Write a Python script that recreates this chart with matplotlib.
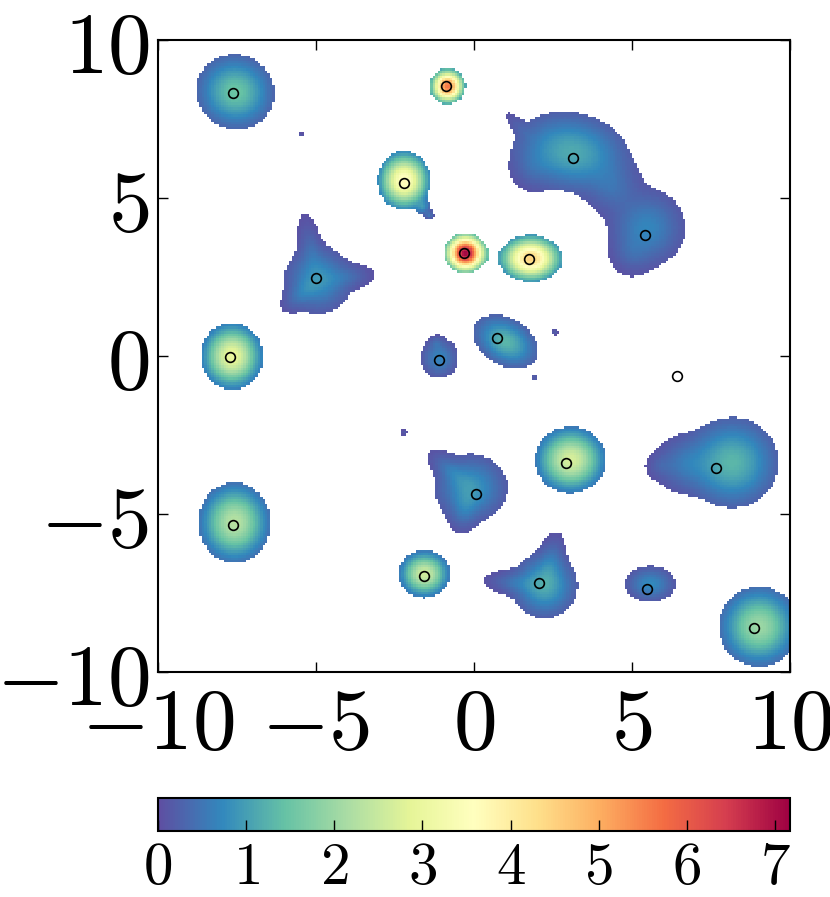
import numpy as np
import matplotlib
matplotlib.use("Agg")
import matplotlib.pyplot as plt
from matplotlib.ticker import FuncFormatter

plt.rcParams['mathtext.fontset'] = 'cm'

# sample points (markers)
pts_x = [-7.63, -0.89, -2.22, -0.32, 1.74, 3.13, 5.41, -5.00, -7.72, -1.11,
         0.73, 6.42, 2.91, 7.66, 0.06, -7.63, -1.58, 2.06, 5.47, 8.86]
pts_y = [8.32, 8.54, 5.47, 3.26, 3.07, 6.27, 3.83, 2.47, -0.03, -0.13,
         0.57, -0.63, -3.39, -3.54, -4.37, -5.35, -6.96, -7.18, -7.37, -8.61]

# bumps that make up the field
comp_x = [-7.58, -0.84, -2.22, -1.62, -1.42, -0.27, 1.80,
          3.10, 5.50, 4.40, 5.00, 1.45, 1.85,
          -4.95, -5.20, -3.95, -5.50,
          -7.69, -1.10, -1.20, 1.01, 3.07,
          8.20, 6.60, 5.90,
          -0.10, -0.80, -0.30, -7.61, -1.58,
          2.25, 2.45, 1.20, 5.60, 9.05,
          -5.50, 2.56, 1.93, -2.22]
comp_y = [8.36, 8.54, 5.55, 4.70, 4.45, 3.25, 3.08,
          6.45, 4.05, 5.30, 3.20, 7.25, 5.90,
          2.40, 3.50, 2.50, 1.95,
          -0.02, -0.08, 0.40, 0.44, -3.31,
          -3.40, -3.45, -3.50,
          -4.20, -3.60, -4.90, -5.30, -6.93,
          -7.30, -6.50, -7.20, -7.25, -8.60,
          7.00, 0.76, -0.70, -2.44]
comp_sx = [0.70, 0.32, 0.47, 0.12, 0.08, 0.38, 0.56,
           1.02, 0.68, 0.45, 0.35, 0.30, 0.35,
           0.60, 0.55, 0.45, 0.40,
           0.55, 0.33, 0.12, 0.62, 0.63,
           0.82, 0.52, 0.22,
           0.65, 0.45, 0.40, 0.64, 0.46,
           0.58, 0.50, 0.50, 0.45, 0.71,
           0.05, 0.06, 0.06, 0.06]
comp_sy = [0.66, 0.32, 0.52, 0.12, 0.08, 0.36, 0.42,
           0.70, 0.68, 0.45, 0.35, 0.10, 0.35,
           0.60, 0.20, 0.20, 0.20,
           0.59, 0.36, 0.12, 0.42, 0.59,
           0.80, 0.47, 0.20,
           0.60, 0.20, 0.25, 0.71, 0.42,
           0.58, 0.22, 0.20, 0.32, 0.71,
           0.05, 0.06, 0.06, 0.06]
comp_ang = [-20, 0, 0, 0, 0, 0, 0,
            -10, 0, 0, 0, 135, 0,
            0, 101, 5, 220,
            0, 0, 0, -30, 0,
            0, 0, 0,
            0, 139, 256, 0, 0,
            0, 79, 176, 0, 0,
            0, 0, 0, 0]
comp_amp = [1.5, 5.6, 3.7, 0.5, 0.4, 7.1, 4.5,
            1.15, 0.7, 0.3, 0.2, 0.1, 0.15,
            0.85, 0.25, 0.25, 0.25,
            3.0, 0.7, 0.2, 1.3, 2.7,
            1.3, 0.4, 0.15,
            0.9, 0.3, 0.3, 2.3, 2.6,
            1.1, 0.3, 0.3, 0.75, 2.0,
            0.2, 0.2, 0.2, 0.2]
cut = 0.2
vmax = 7.17

n = 260
gx, gy = np.meshgrid(np.linspace(-10, 10, n), np.linspace(-10, 10, n))
shape = np.zeros_like(gx)
field = np.zeros_like(gx)
for cx, cy, sx, sy, a, amp in zip(comp_x, comp_y, comp_sx, comp_sy, comp_ang, comp_amp):
    t = np.deg2rad(a)
    u = (gx - cx) * np.cos(t) + (gy - cy) * np.sin(t)
    v = -(gx - cx) * np.sin(t) + (gy - cy) * np.cos(t)
    g = np.exp(-0.5 * ((u / sx) ** 2 + (v / sy) ** 2))
    shape += g
    field += amp * g
field = np.ma.masked_where(shape < cut, field)

fig = plt.figure(figsize=(8.3, 8.97), dpi=100)
ax = fig.add_axes([0.1904, 0.2508, 0.7614, 0.7046])
im = ax.imshow(field, origin='lower', extent=[-10, 10, -10, 10], cmap='Spectral_r',
               vmin=0, vmax=vmax, interpolation='nearest', aspect='auto')
ax.plot(pts_x, pts_y, 'o', mfc='none', mec='k', ms=7, mew=1.2)
ax.set_xlim(-10, 10)
ax.set_ylim(-10, 10)
ticks = [-10, -5, 0, 5, 10]
ax.set_xticks(ticks)
ax.set_yticks(ticks)
fmt = FuncFormatter(lambda v, p: '$%g$' % v)
ax.xaxis.set_major_formatter(fmt)
ax.yaxis.set_major_formatter(fmt)
ax.tick_params(direction='in', top=True, right=True, length=7, width=1,
               labelsize=63)
ax.tick_params(axis='x', pad=8)
ax.tick_params(axis='y', pad=6)
for s in ax.spines.values():
    s.set_linewidth(1.5)

cax = fig.add_axes([0.1904, 0.0736, 0.7614, 0.0368])
cb = fig.colorbar(im, cax=cax, orientation='horizontal')
cb.set_ticks(range(8))
cb.ax.xaxis.set_major_formatter(fmt)
cb.ax.tick_params(direction='in', length=8, width=1, labelsize=42.5, pad=6)
cb.outline.set_linewidth(1.5)

fig.savefig('out.png', dpi=100)
